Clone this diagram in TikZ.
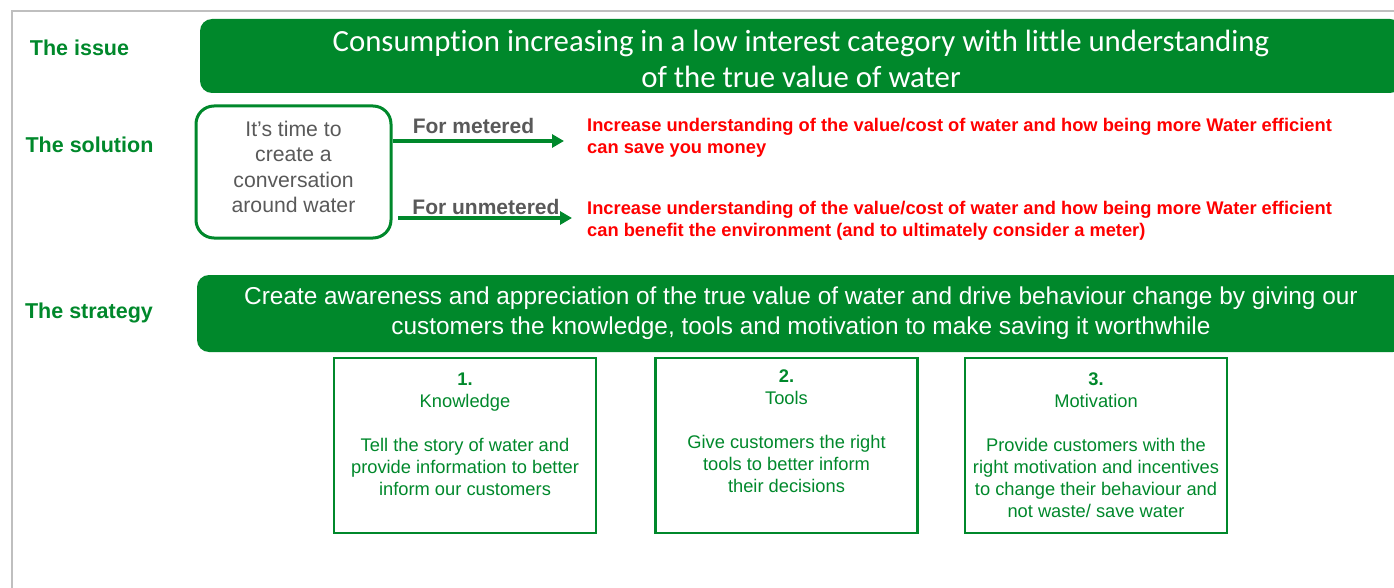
\documentclass[tikz,border=0pt]{standalone}
\usepackage{fontspec}
\setmainfont{Liberation Sans}
\newfontfamily\calibrifont[Ligatures=NoCommon]{Carlito}
\usetikzlibrary{positioning,arrows.meta}
\definecolor{swgreen}{RGB}{0,136,43}
\definecolor{txtgray}{RGB}{89,89,89}
\definecolor{framegray}{RGB}{191,191,191}
\newcommand{\lowerby}[2]{\raisebox{-#1}[\height][\depth]{#2}}

\begin{document}
\begin{tikzpicture}[x=1pt,y=-1pt,
	rowlabel/.style={text=swgreen,font=\bfseries\fontsize{21.5}{24}\selectfont},
	bar/.style={fill=swgreen,rounded corners=12pt,text=white,align=center,inner sep=0pt},
	arrowlabel/.style={text=txtgray,font=\bfseries\fontsize{21}{24}\selectfont},
	redtext/.style={text=red,font=\bfseries\fontsize{18.3}{22}\selectfont,align=left,anchor=west,inner sep=0pt},
	card/.style={draw=swgreen,line width=2.5pt,minimum width=262pt,minimum height=175pt},
	cardtext/.style={text=swgreen,align=center,anchor=north,font=\fontsize{18.3}{22}\selectfont,inner sep=0pt},
	greenarrow/.style={draw=swgreen,line width=3.5pt,-{Triangle[length=12pt,width=13pt]}}]
	\useasboundingbox (0,0) rectangle (1394,588);
	\draw[framegray,line width=2pt] (11.5,588) -- (11.5,11.5) -- (1400,11.5);
	
	% row labels
	\node[rowlabel] (issuelbl) at (79.5,48) {The issue};
	\node[rowlabel] (sollbl) at (89.5,145) {The solution};
	\node[rowlabel] (stratlbl) at (89,313) {The strategy};
	
	% the issue
	\node[bar,minimum width=1202pt,minimum height=74pt,font=\calibrifont\fontsize{30.8}{36}\selectfont] (issue) at (801,56) {\lowerby{3pt}{Consumption increasing in a low interest category with little understanding}\\\lowerby{3pt}{of the true value of water}};
	
	% the solution
	\node[draw=swgreen,line width=3pt,rounded corners=18pt,minimum width=195pt,minimum height=132pt,text=txtgray,align=center,font=\fontsize{21.2}{25.2}\selectfont] (conv) at (293.5,172) {\lowerby{-5pt}{It’s time to}\\\lowerby{-5pt}{create a}\\\lowerby{-5pt}{conversation}\\\lowerby{-5pt}{around water}};
	
	\coordinate (metend) at (564,141);
	\coordinate (unmstart) at (398,218);
	\coordinate (unmend) at (572,218);
	\draw[greenarrow] (conv.east |- metend) -- (metend);
	\draw[greenarrow] (unmstart) -- (unmend);
	
	\node[arrowlabel] (metered) at (473.5,126) {For metered};
	\node[arrowlabel] (unmetered) at (486,207) {For unmetered};
	
	\node[redtext] (metgoal) at (587,138) {Increase understanding of the value/cost of water and how being more Water efficient\\can save you money};
	\node[redtext] (unmgoal) at (587,221) {Increase understanding of the value/cost of water and how being more Water efficient\\can benefit the environment (and to ultimately consider a meter)};
	
	% the strategy
	\node[bar,minimum width=1208pt,minimum height=77pt,font=\fontsize{24.4}{30}\selectfont] (strategy) at (801,313.5) {Create awareness and appreciation of the true value of water and drive behaviour change by giving our\\customers the knowledge, tools and motivation to make saving it worthwhile};
	
	\node[card] (know) at (465,445.5) {};
	\node[card] (tools) at (786.5,445.5) {};
	\node[card] (motiv) at (1096,445.5) {};
	
	\node[cardtext] (knowtxt) at ([yshift=-16pt]know.north) {\textbf{1.}\\Knowledge\\[22pt]Tell the story of water and\\provide information to better\\inform our customers};
	\node[cardtext] (toolstxt) at ([yshift=-13pt]tools.north) {\textbf{2.}\\Tools\\[22pt]Give customers the right\\tools to better inform\\their decisions};
	\node[cardtext] (motivtxt) at ([yshift=-16pt]motiv.north) {\textbf{3.}\\Motivation\\[22pt]Provide customers with the\\right motivation and incentives\\to change their behaviour and\\not waste/ save water};
\end{tikzpicture}
\end{document}
